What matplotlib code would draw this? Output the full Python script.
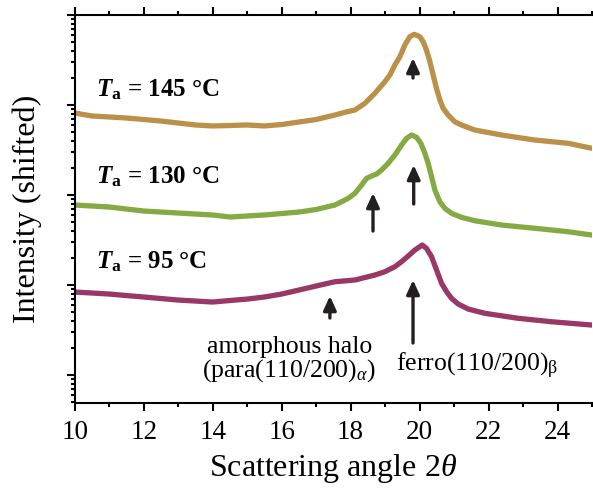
import matplotlib
matplotlib.use("Agg")
import matplotlib.pyplot as plt
from matplotlib.ticker import LogLocator, NullFormatter, MultipleLocator

plt.rcParams['font.family'] = ['Liberation Serif', 'DejaVu Serif']
plt.rcParams['mathtext.fontset'] = 'custom'
plt.rcParams['mathtext.rm'] = 'Liberation Serif'
plt.rcParams['mathtext.it'] = 'Liberation Serif:italic'
plt.rcParams['mathtext.bf'] = 'Liberation Serif:bold'
plt.rcParams['mathtext.bfit'] = 'Liberation Serif:bold:italic'

# data (intensity, shifted, arbitrary units)
angle_145 = [10, 10.5, 11, 11.5, 12, 12.5, 13, 13.5, 14, 14.5, 15, 15.5, 16, 16.5, 17,
             17.545, 17.835, 18.125, 18.415, 18.704, 18.994, 19.139, 19.284, 19.429, 19.574,
             19.719, 19.843, 20.009, 20.104, 20.2, 20.3, 20.394, 20.49, 20.59, 20.684, 20.829,
             21.02, 21.217, 21.6, 22.377, 23.34, 24.31, 25]
int_145 = [8150, 7550, 7360, 7170, 6900, 6640, 6310, 6000, 5850, 5920, 6000, 5850, 6070, 6470, 6900,
           7743, 8298, 8800, 10445, 13490, 18150, 21540, 27830, 34420, 46420,
           57410, 61040, 57410, 50500, 40840, 30280, 21540, 15330, 11366, 9193, 7743,
           6525, 5995, 5275, 4642, 4084, 3754, 3304]

angle_130 = [10, 10.5, 11, 11.5, 12, 12.5, 13, 13.5, 14, 14.5, 15, 15.5, 16, 16.5, 17,
             17.545, 17.738, 17.931, 18.125, 18.319, 18.464, 18.609, 18.754, 18.899, 19.09,
             19.284, 19.478, 19.623, 19.768, 19.913, 20.038, 20.154, 20.249, 20.348, 20.443,
             20.588, 20.733, 20.928, 21.217, 21.6, 22.377, 23.34, 24.31, 25]
int_130 = [774, 755, 736, 699, 664, 647, 631, 615, 600, 570, 585, 600, 623, 647, 690,
           774, 842, 919, 1044, 1291, 1533, 1626, 1711, 1896, 2250,
           2782, 3594, 4266, 4642, 4377, 3754, 2907, 2250, 1598, 1137,
           842, 711, 626, 565, 518, 464, 427, 391, 359]

angle_95 = [10, 10.5, 11, 11.5, 12, 12.5, 13, 13.5, 14, 14.5, 15, 15.5, 16, 16.5, 17,
            17.545, 18.125, 18.704, 18.994, 19.284, 19.478, 19.67, 19.864, 20.077, 20.2,
            20.348, 20.493, 20.638, 20.783, 20.928, 21.12, 21.41, 21.893, 22.858, 23.826, 25]
int_95 = [83.6, 81.5, 79.4, 76.4, 73.6, 70.8, 68.1, 66.4, 64.7, 67.3, 69.8, 73.6, 79.4, 87.9, 97.5,
          108.8, 113.7, 129.1, 140.6, 159.8, 181.6, 210.0, 244.8, 278.2, 255.7,
          206.3, 146.8, 104.5, 84.3, 71.1, 61.5, 54.1, 48.5, 42.7, 39.1, 35.9]

colors = ['#bb9049', '#85aa43', '#993767']

fig = plt.figure(figsize=(5.93, 4.95), dpi=100)
ax = fig.add_axes([74.7 / 593, 92 / 495, (592 - 74.7) / 593, 388 / 495])

ax.plot(angle_145, int_145, color=colors[0], lw=3.8, solid_joinstyle='round')
ax.plot(angle_130, int_130, color=colors[1], lw=3.8, solid_joinstyle='round')
ax.plot(angle_95, int_95, color=colors[2], lw=3.8, solid_joinstyle='round')

ax.set_yscale('log')
ax.set_xlim(10, 25)
ax.set_ylim(4.89, 1e5)

ax.xaxis.set_major_locator(MultipleLocator(2))
ax.xaxis.set_minor_locator(MultipleLocator(1))
ax.yaxis.set_major_locator(LogLocator(base=10))
ax.yaxis.set_minor_locator(LogLocator(base=10, subs=range(2, 10)))
ax.yaxis.set_major_formatter(NullFormatter())
ax.yaxis.set_minor_formatter(NullFormatter())

ax.spines['right'].set_visible(False)
for s in ['left', 'bottom', 'top']:
    ax.spines[s].set_linewidth(1.5)
ax.tick_params(which='both', direction='out', top=True, right=False, labeltop=False, width=1.5)
ax.tick_params(which='major', length=6)
ax.tick_params(which='minor', length=3)
ax.tick_params(axis='x', labelsize=19.5, pad=6)

ax.set_xlabel(r'Scattering angle 2$\theta$', fontsize=23, labelpad=5)
ax.set_ylabel('Intensity (shifted)', fontsize=23, labelpad=14)

# temperature labels
ax.text(10.62, 12590, r'$\mathbfit{T}_{\mathbf{a}}$ = 145 °C', fontsize=18, fontweight='bold', va='baseline')
ax.text(10.62, 1360, r'$\mathbfit{T}_{\mathbf{a}}$ = 130 °C', fontsize=18, fontweight='bold', va='baseline')
ax.text(10.62, 154.5, r'$\mathbfit{T}_{\mathbf{a}}$ = 95 °C', fontsize=18, fontweight='bold', va='baseline')

# arrows
arrow_kw = dict(arrowstyle='-|>,head_length=0.7,head_width=0.32', lw=2.4, color='#231f20',
                mutation_scale=12, shrinkA=0, shrinkB=0)
for x, tail, tip in [(19.81, 19950, 33270), (18.65, 398, 1052), (19.83, 794, 2154),
                     (17.40, 43, 75.5), (19.81, 22.7, 113.7)]:
    ax.annotate('', xy=(x, tip), xytext=(x, tail), arrowprops=arrow_kw)

ax.text(16.22, 17.5, 'amorphous halo', fontsize=18.5, ha='center', va='baseline')
ax.text(16.22, 9.57, r'(para(110/200)$_\alpha$)', fontsize=18.5, ha='center', va='baseline')
ax.text(19.33, 10.9, r'ferro(110/200)$_\mathrm{\beta}$', fontsize=18.5, ha='left', va='baseline')

fig.savefig('out.png', dpi=100)
